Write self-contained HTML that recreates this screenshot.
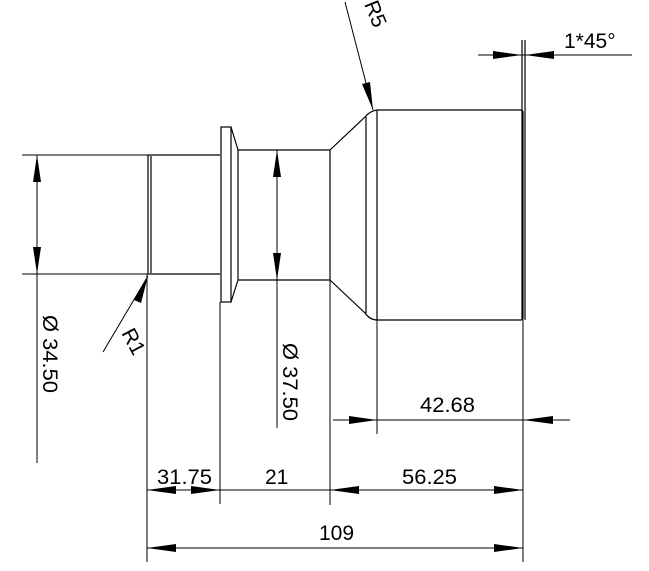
<!DOCTYPE html>
<html><head><style>body{margin:0;background:#fff}svg{display:block}text{font-family:"Liberation Sans",sans-serif;font-size:21px;fill:#000}</style></head><body>
<svg width="649" height="571" viewBox="0 0 649 571" xmlns="http://www.w3.org/2000/svg">
<g stroke="#000" stroke-width="1.2" fill="none">
<path d="M148 155H220M148 274H220M148 155V274M151 156V273"/>
<rect x="221" y="127" width="10" height="175"/>
<path d="M231 127L238 150M231 302L238 280M238 150V280"/>
<path d="M238 150H330M238 280H330M330 150V280"/>
<path d="M330 150L365 117Q370 111 377 110M330 280L365 313Q370 320 377 320M366 117V313M377 110V320"/>
<path d="M377 110H521Q523 110 523 113V318Q523 320 521 320H377M522 40V320M525 40V320"/>
</g>
<g stroke="#000" stroke-width="1" fill="none">
<path d="M22 155H148M22 274H148M37 155V463M277 150V428M147 274V562M220 302V504M330 280V505M377 320V434M523 320V562"/>
<path d="M147 490H523M147 548H523M333 420H570M478 55H632"/>
<path d="M103 352L148 276M345 2L373 110"/>
</g>
<g fill="#000">
<polygon points="37,155 33,182 41,182"/><polygon points="37,274 33,247 41,247"/>
<polygon points="277,150 273,177 281,177"/><polygon points="277,280 273,253 281,253"/>
<polygon points="147,490 176,486 176,494"/><polygon points="220,490 191,486 191,494"/>
<polygon points="330,490 359,486 359,494"/><polygon points="523,490 494,486 494,494"/>
<polygon points="147,548 176,544 176,552"/><polygon points="523,548 494,544 494,552"/>
<polygon points="377,420 349,416 349,424"/><polygon points="523,420 553,416 553,424"/>
<polygon points="522,55 493,51 493,59"/><polygon points="525,55 554,51 554,59"/>
<polygon points="148,276 134,300 141,303"/>
<polygon points="373,110 362,84 370,82"/>
</g>
<text x="157" y="484" textLength="55" lengthAdjust="spacingAndGlyphs">31.75</text>
<text x="265" y="484">21</text>
<text x="402" y="484" textLength="55" lengthAdjust="spacingAndGlyphs">56.25</text>
<text x="319" y="540">109</text>
<text x="420" y="412" textLength="55" lengthAdjust="spacingAndGlyphs">42.68</text>
<text x="564" y="48">1*45°</text>
<text transform="translate(43,315) rotate(90)" textLength="78" lengthAdjust="spacingAndGlyphs">Ø 34.50</text>
<text transform="translate(283,343) rotate(90)" textLength="78" lengthAdjust="spacingAndGlyphs">Ø 37.50</text>
<text transform="translate(121,333) rotate(62)">R1</text>
<text transform="translate(364,4) rotate(68)">R5</text>
</svg>
</body></html>
